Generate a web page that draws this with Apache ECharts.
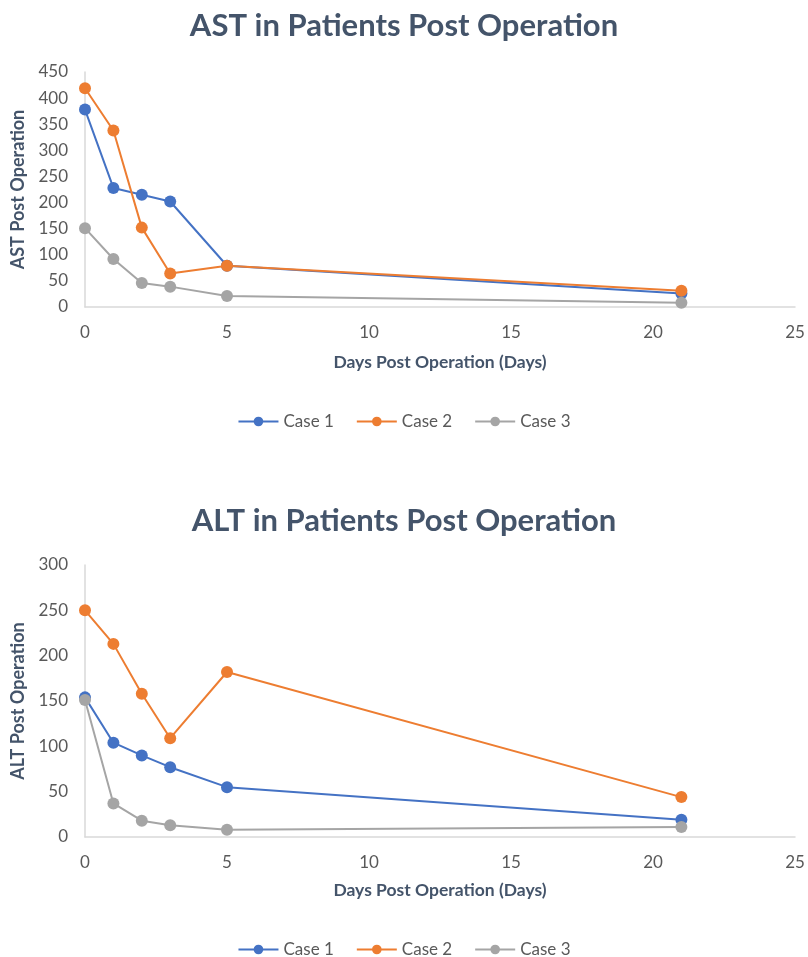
<!DOCTYPE html>
<html>
<head>
<meta charset="utf-8">
<script src="https://cdn.jsdelivr.net/npm/echarts@6/dist/echarts.min.js"></script>
<style>
  html, body { margin: 0; padding: 0; background: #fff; }
  #chart { width: 808px; height: 957px; }
</style>
</head>
<body>
<div id="chart"></div>
<script>
// days post operation
const days = [0, 1, 2, 3, 5, 21];
const seriesNames = ['Case 1', 'Case 2', 'Case 3'];
const colors = ['#4472c4', '#ed7d31', '#a5a5a5'];

// AST values
const astCase1 = [378, 228, 215, 202, 79, 26];
const astCase2 = [419, 338, 152, 64, 79, 31];
const astCase3 = [151, 92, 46, 39, 21, 8];

// ALT values
const altCase1 = [154, 104, 90, 77, 55, 19];
const altCase2 = [250, 213, 158, 109, 182, 44];
const altCase3 = [151, 37, 18, 13, 8, 11];

const astTicks = { min: 0, max: 450, interval: 50 };
const altTicks = { min: 0, max: 300, interval: 50 };
const dayTicks = { min: 0, max: 25, interval: 5 };

const fontFamily = 'Lato, "Open Sans", sans-serif';
const titleColor = '#44546a';
const labelColor = '#595959';

const chart = echarts.init(document.getElementById('chart'));

const pair = (vals) => days.map((d, i) => [d, vals[i]]);

const makeSeries = (vals, idx, axisIdx) => ({
  name: seriesNames[idx],
  type: 'line',
  xAxisIndex: axisIdx,
  yAxisIndex: axisIdx,
  symbol: 'circle',
  symbolSize: 12,
  itemStyle: { color: colors[idx] },
  lineStyle: { color: colors[idx], width: 2 },
  z: 2 + idx,
  data: pair(vals)
});

const xAxisBase = (idx, gap) => ({
  type: 'value',
  gridIndex: idx,
  min: dayTicks.min,
  max: dayTicks.max,
  interval: dayTicks.interval,
  name: 'Days Post Operation (Days)',
  nameLocation: 'middle',
  nameGap: gap,
  nameTextStyle: { color: titleColor, fontWeight: 'bold', fontSize: 17.5, fontFamily },
  axisLine: { show: true, lineStyle: { color: '#d9d9d9', width: 1.5 } },
  axisTick: { show: false },
  splitLine: { show: false },
  axisLabel: { color: labelColor, fontSize: 17, fontFamily, margin: 17 }
});

const yAxisBase = (idx, ticks, name) => ({
  type: 'value',
  gridIndex: idx,
  min: ticks.min,
  max: ticks.max,
  interval: ticks.interval,
  name: name,
  nameLocation: 'middle',
  nameGap: 54,
  nameTextStyle: { color: titleColor, fontWeight: 'bold', fontSize: 18, fontFamily },
  axisLine: { show: true, lineStyle: { color: '#d9d9d9', width: 1.5 } },
  axisTick: { show: false },
  splitLine: { show: false },
  axisLabel: { color: labelColor, fontSize: 17, fontFamily, margin: 17 }
});

const legendBase = (top) => ({
  top: top,
  left: 'center',
  data: seriesNames,
  itemWidth: 40,
  itemHeight: 12,
  itemGap: 22,
  textStyle: { color: labelColor, fontSize: 17, fontFamily }
});

const options = {
  animation: false,
  backgroundColor: '#fff',
  title: [
    {
      text: 'AST in Patients Post Operation',
      left: 'center',
      top: 5,
      textStyle: { color: titleColor, fontSize: 31, fontWeight: 'bold', fontFamily }
    },
    {
      text: 'ALT in Patients Post Operation',
      left: 'center',
      top: 500,
      textStyle: { color: titleColor, fontSize: 31, fontWeight: 'bold', fontFamily }
    }
  ],
  legend: [
    legendBase(408),
    legendBase(936)
  ],
  grid: [
    { left: 85, right: 13, top: 72, height: 235 },
    { left: 85, right: 13, top: 565, height: 272 }
  ],
  xAxis: [xAxisBase(0, 46), xAxisBase(1, 44)],
  yAxis: [
    yAxisBase(0, astTicks, 'AST Post Operation'),
    yAxisBase(1, altTicks, 'ALT Post Operation')
  ],
  series: [
    makeSeries(astCase1, 0, 0),
    makeSeries(astCase2, 1, 0),
    makeSeries(astCase3, 2, 0),
    makeSeries(altCase1, 0, 1),
    makeSeries(altCase2, 1, 1),
    makeSeries(altCase3, 2, 1)
  ]
};

chart.setOption(options);
</script>
</body>
</html>
